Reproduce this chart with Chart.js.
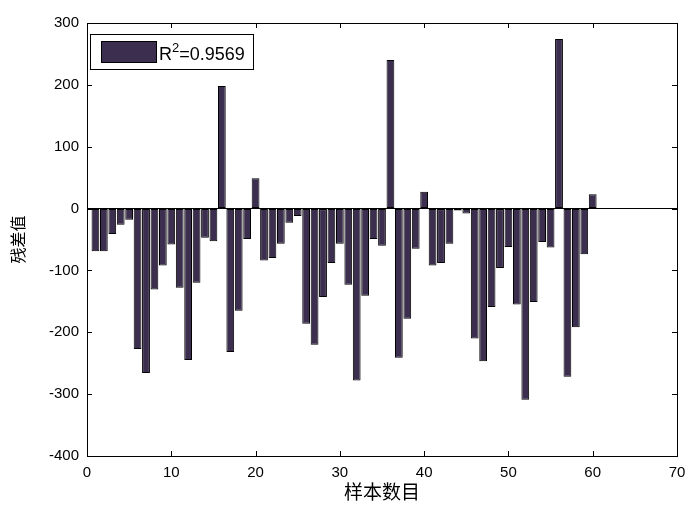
<!DOCTYPE html>
<html lang="zh">
  <head>
    <meta charset="UTF-8" />
    <title>残差值</title>
    <script src="https://cdn.jsdelivr.net/npm/chart.js"></script>
    <style>
      body { margin: 0; background: #fff; }
      #wrap { width: 700px; height: 508px; }
    </style>
  </head>
  <body>
    <div id="wrap"><canvas id="residualChart"></canvas></div>
    <script>
      // sample index 1..60
      const samples = [
        1, 2, 3, 4, 5, 6, 7, 8, 9, 10, 11, 12, 13, 14, 15, 16, 17, 18, 19, 20,
        21, 22, 23, 24, 25, 26, 27, 28, 29, 30, 31, 32, 33, 34, 35, 36, 37, 38, 39, 40,
        41, 42, 43, 44, 45, 46, 47, 48, 49, 50, 51, 52, 53, 54, 55, 56, 57, 58, 59, 60,
      ];
      // residuals
      const residuals = [
        -69, -69, -41, -26, -18, -227, -266, -131, -92, -58,
        -128, -245, -120, -47, -53, 198, -232, -165, -49, 49,
        -84, -80, -57, -23, -12, -186, -220, -143, -88, -57,
        -123, -278, -141, -49, -60, 240, -241, -178, -65, 27,
        -92, -88, -57, -3, -8, -210, -247, -159, -96, -62,
        -155, -309, -151, -54, -63, 274, -272, -192, -74, 23,
      ];
      const legendParts = ["R", "2", "=0.9569"];
      const xTitle = "样本数目";
      const yTitle = "残差值";

      const barColor = "#3c2e4e";
      const tickFont = "'Liberation Sans Narrow', 'Liberation Sans', Arial, sans-serif";

      // matlab style box, inward ticks and legend
      const matlabFrame = {
        id: "matlabFrame",
        afterDraw(chart) {
          const { ctx, chartArea: a, scales } = chart;
          ctx.save();
          ctx.strokeStyle = "#000";
          ctx.lineWidth = 1;
          ctx.strokeRect(a.left + 0.5, a.top + 0.5, a.right - a.left, a.bottom - a.top);
          ctx.beginPath();
          scales.x.ticks.forEach((t) => {
            const px = Math.round(scales.x.getPixelForValue(t.value)) + 0.5;
            ctx.moveTo(px, a.bottom);
            ctx.lineTo(px, a.bottom - 5);
            ctx.moveTo(px, a.top);
            ctx.lineTo(px, a.top + 5);
          });
          scales.y.ticks.forEach((t) => {
            const py = Math.round(scales.y.getPixelForValue(t.value)) + 0.5;
            ctx.moveTo(a.left, py);
            ctx.lineTo(a.left + 5, py);
            ctx.moveTo(a.right, py);
            ctx.lineTo(a.right - 5, py);
          });
          ctx.stroke();

          // legend box
          const bx = a.left + 3, by = a.top + 11, bw = 163, bh = 35;
          ctx.fillStyle = "#fff";
          ctx.fillRect(bx, by, bw, bh);
          ctx.strokeRect(bx + 0.5, by + 0.5, bw, bh);
          ctx.fillStyle = barColor;
          ctx.fillRect(bx + 11, by + 7, 55, 21);
          ctx.strokeRect(bx + 11.5, by + 7.5, 55, 21);
          ctx.fillStyle = "#000";
          ctx.textBaseline = "alphabetic";
          let tx = bx + 69;
          const ty = by + 26;
          ctx.font = "18px 'Liberation Sans', Arial, sans-serif";
          ctx.fillText(legendParts[0], tx, ty);
          tx += ctx.measureText(legendParts[0]).width;
          ctx.font = "13px 'Liberation Sans', Arial, sans-serif";
          ctx.fillText(legendParts[1], tx, ty - 8);
          tx += ctx.measureText(legendParts[1]).width;
          ctx.font = "18px 'Liberation Sans', Arial, sans-serif";
          ctx.fillText(legendParts[2], tx, ty);
          ctx.restore();
        },
      };

      new Chart(document.getElementById("residualChart"), {
        type: "bar",
        data: {
          datasets: [
            {
              label: legendParts.join(""),
              data: samples.map((s, i) => ({ x: s, y: residuals[i] })),
              backgroundColor: barColor,
              borderColor: "#000",
              borderWidth: 1,
              borderSkipped: false,
              barPercentage: 0.92,
              categoryPercentage: 1,
            },
          ],
        },
        options: {
          responsive: true,
          maintainAspectRatio: false,
          animation: false,
          layout: { padding: { top: 23, right: 23, left: 0, bottom: 0 } },
          plugins: { legend: { display: false }, tooltip: { enabled: false } },
          scales: {
            x: {
              type: "linear",
              min: 0,
              max: 70,
              offset: false,
              grid: { display: false, drawTicks: false },
              border: { display: false },
              ticks: {
                stepSize: 10,
                color: "#000",
                padding: 8,
                maxRotation: 0,
                font: { family: tickFont, size: 15 },
              },
              title: {
                display: true,
                text: xTitle,
                color: "#000",
                padding: { top: 0, bottom: 5 },
                font: { family: "'Noto Sans CJK SC', sans-serif", size: 19 },
              },
              afterFit: (scale) => { scale.height = 52; },
            },
            y: {
              min: -400,
              max: 300,
              grid: {
                drawTicks: false,
                color: (c) => (c.tick && c.tick.value === 0 ? "#000" : "rgba(0,0,0,0)"),
              },
              border: { display: false },
              ticks: {
                stepSize: 100,
                color: "#000",
                padding: 8,
                font: { family: tickFont, size: 15 },
              },
              title: {
                display: true,
                text: yTitle,
                color: "#000",
                padding: { top: 8, bottom: 0 },
                font: { family: "'Noto Sans CJK SC', sans-serif", size: 16 },
              },
              afterFit: (scale) => { scale.width = 87; },
            },
          },
        },
        plugins: [matlabFrame],
      });
    </script>
  </body>
</html>
